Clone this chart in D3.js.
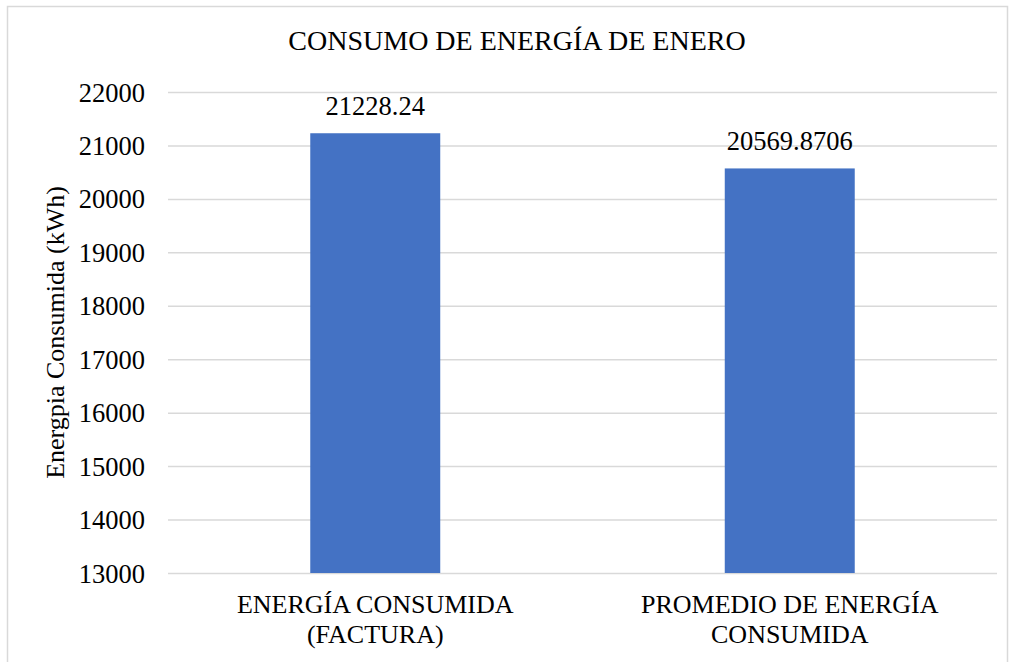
<!DOCTYPE html>
<html>
<head>
<meta charset="utf-8">
<script src="https://cdn.jsdelivr.net/npm/d3@7"></script>
<style>
  html, body { margin: 0; padding: 0; background: #fff; }
  svg { display: block; }
  svg text { font-family: "Liberation Serif", "Times New Roman", Times, "DejaVu Serif", serif; fill: #000; }
</style>
</head>
<body>
<svg id="chart" width="1014" height="662"></svg>
<script>
// Monthly energy consumption: billed vs. average
const categories = [["ENERGÍA CONSUMIDA", "(FACTURA)"], ["PROMEDIO DE ENERGÍA", "CONSUMIDA"]];
const values = [21228.24, 20569.8706];
const valueLabels = ["21228.24", "20569.8706"];
const yTicks = [13000, 14000, 15000, 16000, 17000, 18000, 19000, 20000, 21000, 22000];
const titleText = "CONSUMO DE ENERGÍA DE ENERO";
const yAxisTitle = "Energpia Consumida (kWh)";

const serif = "'Liberation Serif', 'Times New Roman', Times, 'DejaVu Serif', serif";
const svg = d3.select("#chart");
const plot = { left: 168, right: 997, top: 92, bottom: 573 };

// chart frame
svg.append("rect")
  .attr("x", 7.5).attr("y", 6.5)
  .attr("width", 1000).attr("height", 670)
  .attr("fill", "#fff")
  .attr("stroke", "#d9d9d9").attr("stroke-width", 1.5);

const x = d3.scaleBand()
  .domain(d3.range(categories.length))
  .range([plot.left, plot.right])
  .padding(0);

const y = d3.scaleLinear()
  .domain([13000, 22000])
  .range([plot.bottom, plot.top]);

// gridlines + tick labels via axis
const yAxis = d3.axisLeft(y)
  .tickValues(yTicks)
  .tickFormat(d3.format("d"))
  .tickSize(-(plot.right - plot.left))
  .tickPadding(23);

const gy = svg.append("g")
  .attr("transform", `translate(${plot.left},0)`)
  .call(yAxis)
  .attr("font-family", serif);
gy.select(".domain").remove();
gy.selectAll(".tick line")
  .attr("stroke", "#d9d9d9")
  .attr("stroke-width", 1.5);
gy.selectAll(".tick text")
  .attr("font-size", 26.5)
  .style("font-family", serif)
  .attr("fill", "#000")
  .attr("dy", "0.34em");

// bars: Excel-style gap width, bar occupies ~31% of each band
const barFrac = 0.3136;
const bw = x.bandwidth() * barFrac;

svg.append("g").selectAll("rect")
  .data(values)
  .join("rect")
  .attr("x", (d, i) => x(i) + (x.bandwidth() - bw) / 2)
  .attr("y", d => y(d))
  .attr("width", bw)
  .attr("height", d => y(13000) - y(d))
  .attr("fill", "#4472C4");

// value labels above bars
svg.append("g").selectAll("text")
  .data(values)
  .join("text")
  .attr("x", (d, i) => x(i) + x.bandwidth() / 2)
  .attr("y", d => y(d) - 18)
  .attr("text-anchor", "middle")
  .attr("font-size", 26.5)
  .style("font-family", serif)
  .text((d, i) => valueLabels[i]);

// category labels (two lines each)
const cat = svg.append("g").selectAll("text")
  .data(categories)
  .join("text")
  .attr("text-anchor", "middle")
  .attr("font-size", 26)
  .style("font-family", serif);
cat.selectAll("tspan")
  .data((d, i) => d.map(line => ({ line, i })))
  .join("tspan")
  .attr("x", d => x(d.i) + x.bandwidth() / 2)
  .attr("y", (d, j) => 613 + j * 30)
  .text(d => d.line);

// title
svg.append("text")
  .attr("x", (289 + 745) / 2)
  .attr("y", 50)
  .attr("text-anchor", "middle")
  .attr("font-size", 28)
  .style("font-family", serif)
  .text(titleText);

// y-axis title
svg.append("text")
  .attr("transform", `translate(64,${(plot.top + plot.bottom) / 2}) rotate(-90)`)
  .attr("text-anchor", "middle")
  .attr("font-size", 26)
  .style("font-family", serif)
  .text(yAxisTitle);
</script>
</body>
</html>
